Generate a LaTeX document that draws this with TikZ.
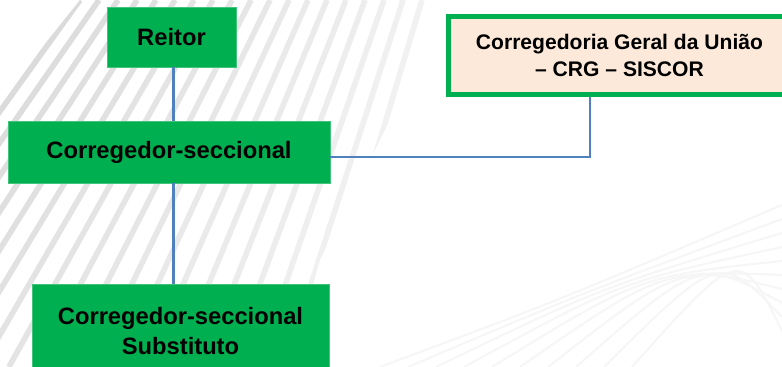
\documentclass[tikz,border=0pt]{standalone}
\usepackage{fontspec}
\setmainfont{Liberation Sans}
\usetikzlibrary{calc}

\definecolor{boxgreen}{HTML}{00B050}
\definecolor{linkblue}{HTML}{4F81BD}
\definecolor{peach}{HTML}{FDE9D9}

\begin{document}
\begin{tikzpicture}[ x = 0.02cm, y = -0.02cm
                     , font = \bfseries\fontsize{13.5}{17.5}\selectfont
                     , every node/.style = { rectangle
                                         , inner sep = 0pt
                                         , align = center }
                     , link/.style = { draw = linkblue, line width = 1.2pt }
                     , stripe/.style = { line width = 3.2pt }
                     ]

  \useasboundingbox (0,0) rectangle (782,367);
  \clip (0,0) rectangle (782,367);

  %%
  %% Background
  %%
  \begin{scope}
    \clip (0,100) -- (80,0) -- (440,0) -- (400,100) -- (355,190)
          -- (320,260) -- (290,367) -- (0,367) -- cycle;
    \foreach \x in {80,99,...,440}
    { \pgfmathsetmacro{\c}{16-0.025*\x}
      \draw [stripe, draw=black!\c] (\x,0) -- ++({-(300-0.45*\x)},367); }
  \end{scope}
  \foreach \i in {0,...,9}
    \draw [line width = 1.2pt, draw = black!3.5]
          (380+28*\i,367) .. controls (560+20*\i,300-6*\i) .. (782,205+14*\i);

  %%
  %% Nodes
  %%
  \tikzset{ office/.style = { fill = boxgreen, draw = boxgreen!75!white, line width = 0.4pt }
          , cgu/.style = { fill = peach, draw = boxgreen, line width = 0.1cm
                         , font = \bfseries\fontsize{12}{15.5}\selectfont }
          }

  \node (reitor) [office, minimum width = 2.58cm, minimum height = 1.2cm]
        at (171.5,37) {Reitor};
  \node (corr) [office, minimum width = 6.44cm, minimum height = 1.24cm]
        at (169,152) {Corregedor-seccional};
  \node (subst) [office, minimum width = 5.94cm, minimum height = 1.88cm]
        at (180.5,331) {Corregedor-seccional\\Substituto};
  \node (crg) [cgu, minimum width = 6.84cm, minimum height = 1.56cm]
        at (619.5,55.5) {Corregedoria Geral da União\\– CRG – SISCOR};
  \coordinate (spine) at (173.5,0);
  \coordinate (elbow) at (590,157);

  %%
  %% Connectors
  %%
  % Vertical lines.
  \draw [link] (reitor.south -| spine) -- (corr.north -| spine);
  \draw [link] (corr.south -| spine) -- (subst.north -| spine);
  % Elbow to the CRG.
  \draw [link] (corr.east |- elbow) -- (elbow) -- (crg.south -| elbow);
\end{tikzpicture}
\end{document}
